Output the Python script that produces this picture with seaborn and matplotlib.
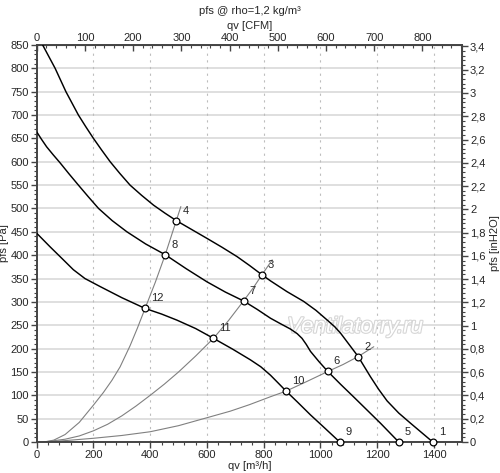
import numpy as np
import pandas as pd
import matplotlib
matplotlib.use("Agg")
import matplotlib.pyplot as plt
import seaborn as sns
from matplotlib.ticker import MultipleLocator, FuncFormatter
import matplotlib.patheffects as pe

# ---- fan curves (qv [m3/h], pfs [Pa]) ----
curve_a_qv = [21, 43, 65, 84, 103, 125, 147, 173, 200, 229, 259, 293, 329, 370, 412, 452, 492,
              546, 600, 653, 706, 750, 794, 824, 882, 941, 984, 1024, 1050, 1071, 1102, 1133,
              1155, 1176, 1205, 1235, 1276, 1318, 1357, 1396]
curve_a_p = [850, 825, 800, 775, 750, 725, 700, 675, 650, 625, 600, 575, 550, 528, 507, 490, 474,
             455, 436, 417, 397, 378, 358, 345, 322, 301, 282, 261, 247, 233, 208, 183,
             161, 140, 113, 88, 62, 40, 20, 0]
curve_b_qv = [0, 17, 35, 58, 82, 114, 147, 182, 218, 266, 318, 384, 453, 527, 600, 665, 729, 777,
              824, 860, 894, 918, 935, 950, 965, 995, 1026, 1072, 1118, 1165, 1212, 1276]
curve_b_p = [664, 648, 632, 615, 598, 574, 550, 525, 500, 474, 450, 424, 401, 371, 343, 321, 302, 284,
             265, 253, 242, 232, 222, 209, 194, 172, 151, 123, 96, 68, 40, 0]
curve_c_qv = [0, 47, 94, 129, 170, 223, 300, 382, 440, 494, 560, 623, 690, 753, 790, 824, 850,
              879, 920, 965, 1015, 1068]
curve_c_p = [447, 418, 390, 369, 350, 333, 309, 286, 274, 261, 243, 222, 199, 176, 161, 143, 127,
             109, 85, 58, 30, 0]

# ---- system curves ----
sys1_qv = [25, 60, 100, 150, 200, 235, 265, 294, 329, 355, 382, 418, 453, 492, 508]
sys1_p = [0, 4, 16, 42, 79, 106, 132, 161, 206, 244, 286, 342, 401, 474, 504]
sys2_qv = [25, 100, 150, 200, 250, 300, 350, 400, 450, 500, 560, 623, 676, 729, 762, 794, 830]
sys2_p = [0, 6, 13, 24, 38, 56, 77, 100, 124, 150, 184, 222, 260, 302, 329, 358, 390]
sys3_qv = [25, 100, 200, 300, 400, 500, 600, 682, 750, 824, 879, 950, 1026, 1080, 1133, 1188]
sys3_p = [0, 3, 8, 14, 22, 35, 52, 66, 80, 97, 109, 129, 151, 166, 183, 204]

# ---- operating points ----
point_labels = ["1", "2", "3", "4", "5", "6", "7", "8", "9", "10", "11", "12"]
point_qv = [1396, 1133, 794, 492, 1276, 1026, 729, 453, 1068, 879, 623, 382]
point_p = [0, 183, 358, 474, 0, 151, 302, 401, 0, 109, 222, 286]

x_ticks = [0, 200, 400, 600, 800, 1000, 1200, 1400]
cfm_ticks = [0, 100, 200, 300, 400, 500, 600, 700, 800]
inh2o_ticks = [0, 0.2, 0.4, 0.6, 0.8, 1, 1.2, 1.4, 1.6, 1.8, 2, 2.2, 2.4, 2.6, 2.8, 3, 3.2, 3.4]

fan_df = pd.concat([
    pd.DataFrame({"qv": curve_a_qv, "p": curve_a_p, "curve": "A"}),
    pd.DataFrame({"qv": curve_b_qv, "p": curve_b_p, "curve": "B"}),
    pd.DataFrame({"qv": curve_c_qv, "p": curve_c_p, "curve": "C"}),
])
sys_df = pd.concat([
    pd.DataFrame({"qv": sys1_qv, "p": sys1_p, "curve": "S1"}),
    pd.DataFrame({"qv": sys2_qv, "p": sys2_p, "curve": "S2"}),
    pd.DataFrame({"qv": sys3_qv, "p": sys3_p, "curve": "S3"}),
])

sns.set_style("white")
plt.rcParams['font.family'] = ['Liberation Sans', 'DejaVu Sans']
FS = 8
spine_c = "#444444"

fig = plt.figure(figsize=(5, 4.73), dpi=100)
ax = fig.add_axes([0.0734, 0.0655, 0.8512, 0.8394])

# grid
for y in range(0, 851, 50):
    ax.axhline(y, color="#dcdcdc", lw=1.3, zorder=0)
for x in x_ticks[1:]:
    ax.axvline(x, color="#bdbdbd", lw=0.8, ls=(0, (2, 4)), zorder=0)

# watermark
ax.text(1122, 246, "Ventilatorry.ru", fontsize=16, style="italic", color="white",
        ha="center", va="center", zorder=1,
        path_effects=[pe.withStroke(linewidth=1.6, foreground="#d6d6d6")])

sns.lineplot(data=sys_df, x="qv", y="p", units="curve", estimator=None, sort=False,
             color="#808080", lw=0.8, ax=ax, zorder=2)
sns.lineplot(data=fan_df, x="qv", y="p", units="curve", estimator=None, sort=False,
             color="black", lw=1.05, ax=ax, zorder=3)
sns.scatterplot(x=point_qv, y=point_p, marker="o", s=24, facecolor="white",
                edgecolor="black", linewidth=0.9, zorder=5, clip_on=False, ax=ax)
for lab, qx, py in zip(point_labels, point_qv, point_p):
    ax.annotate(lab, (qx, py), xytext=(6, 10), textcoords="offset pixels",
                fontsize=FS, ha="left", va="center", zorder=6)

ax.set_xlim(0, 1500)
ax.set_ylim(0, 850)
ax.set_xticks(x_ticks)
ax.xaxis.set_minor_locator(MultipleLocator(40))
ax.set_yticks(np.arange(0, 851, 50))
ax.yaxis.set_minor_locator(MultipleLocator(10))
ax.tick_params(which="major", length=4, width=1, color=spine_c, labelsize=FS, pad=1.5)
ax.tick_params(which="minor", length=2, width=0.8, color=spine_c)
ax.tick_params(bottom=True, left=True, which="both")
ax.set_xlabel("qv [m³/h]", fontsize=FS, labelpad=1)
ax.set_ylabel("pfs [Pa]", fontsize=FS, labelpad=1)
for s in ax.spines.values():
    s.set_color(spine_c)
    s.set_linewidth(1.4)

top = ax.secondary_xaxis("top", functions=(lambda q: q / 1.699, lambda c: c * 1.699))
top.set_xticks(cfm_ticks)
top.xaxis.set_minor_locator(MultipleLocator(20))
top.tick_params(which="major", direction="in", length=4, width=1, color=spine_c, labelsize=FS, pad=1.5)
top.tick_params(which="minor", direction="in", length=2, width=0.8, color=spine_c)
top.set_xlabel("qv [CFM]", fontsize=FS, labelpad=3)
top.spines["top"].set_color(spine_c)

right = ax.secondary_yaxis("right", functions=(lambda p: p / 249.089, lambda w: w * 249.089))
right.set_yticks(inh2o_ticks)
right.yaxis.set_minor_locator(MultipleLocator(0.04))
right.yaxis.set_major_formatter(FuncFormatter(lambda v, _: ("%g" % round(v, 1)).replace(".", ",")))
right.tick_params(which="major", length=4, width=1, color=spine_c, labelsize=FS, pad=1.5)
right.tick_params(which="minor", length=2, width=0.8, color=spine_c)
right.set_ylabel("pfs [inH2O]", fontsize=FS, labelpad=3)
right.spines["right"].set_color(spine_c)

fig.text(0.5, 1 - 11 / 473, "pfs @ rho=1,2 kg/m³", ha="center", va="center", fontsize=FS)

fig.savefig("out.png", dpi=100, facecolor="white")
